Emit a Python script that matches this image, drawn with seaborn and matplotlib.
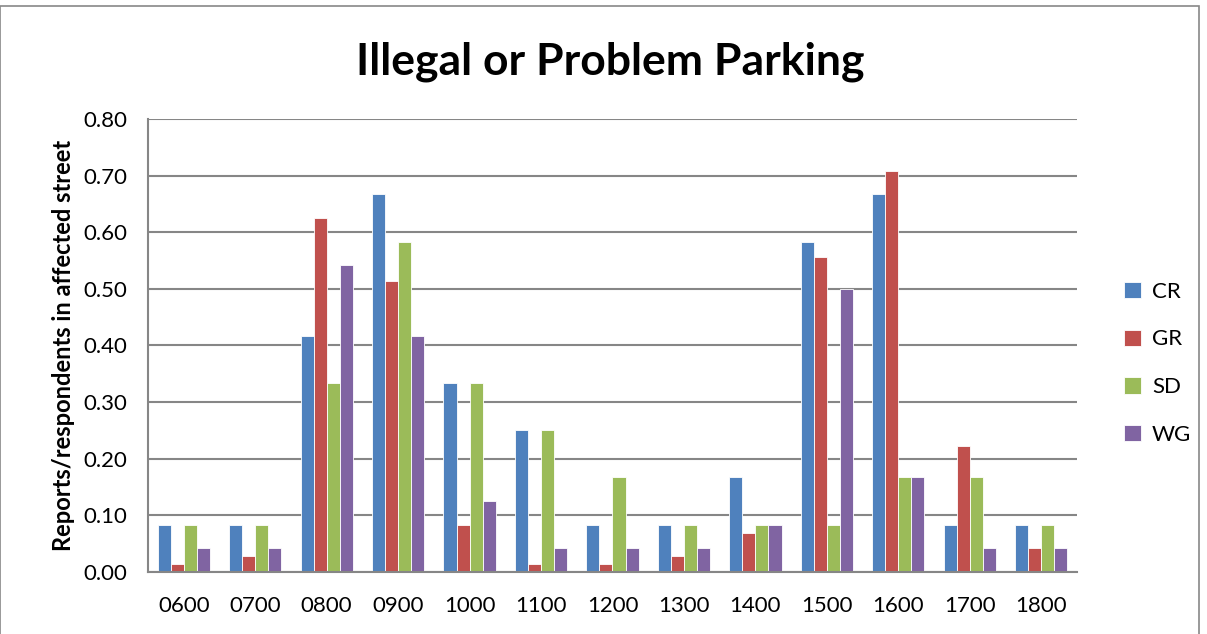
import matplotlib
matplotlib.use("Agg")
import matplotlib.pyplot as plt
import seaborn as sns
import pandas as pd
from matplotlib.patches import Rectangle
from matplotlib.ticker import FormatStrFormatter, FixedLocator

# Data
hours = ["0600", "0700", "0800", "0900", "1000", "1100", "1200",
         "1300", "1400", "1500", "1600", "1700", "1800"]
crVals = [0.083, 0.083, 0.417, 0.667, 0.333, 0.250, 0.083, 0.083, 0.167, 0.583, 0.667, 0.083, 0.083]
grVals = [0.014, 0.028, 0.625, 0.514, 0.083, 0.014, 0.014, 0.028, 0.069, 0.556, 0.708, 0.222, 0.042]
sdVals = [0.083, 0.083, 0.333, 0.583, 0.333, 0.250, 0.167, 0.083, 0.083, 0.083, 0.167, 0.167, 0.083]
wgVals = [0.042, 0.042, 0.542, 0.417, 0.125, 0.042, 0.042, 0.042, 0.083, 0.500, 0.167, 0.042, 0.042]
groups = ["CR", "GR", "SD", "WG"]
palette = ["#4F81BD", "#C0504D", "#9BBB59", "#8064A2"]

rows = []
for grp, vals in zip(groups, [crVals, grVals, sdVals, wgVals]):
    for h, v in zip(hours, vals):
        rows.append({"hour": h, "group": grp, "value": v})
df = pd.DataFrame(rows)

sns.set_style("white")
plt.rcParams["font.family"] = ["Lato", "DejaVu Sans"]
plt.rcParams["text.color"] = "black"
plt.rcParams["axes.labelcolor"] = "black"

fig = plt.figure(figsize=(12.07, 6.34), dpi=100)
ax = fig.add_axes([0.1226, 0.0978, 0.7697, 0.7145])

sns.barplot(data=df, x="hour", y="value", hue="group", palette=palette,
            width=0.73, ax=ax, edgecolor="white", linewidth=0.6, saturation=1)

ax.set_ylim(0, 0.8)
ax.set_xlim(-0.5, len(hours) - 0.5)
ax.set_yticks([i / 10 for i in range(9)])
ax.yaxis.set_major_formatter(FormatStrFormatter("%.2f"))
ax.grid(axis="y", color="#868686", linewidth=1.5)
ax.set_axisbelow(True)

ax.tick_params(axis="x", which="major", length=0, labelsize=16, pad=17, labelcolor="black")
ax.xaxis.set_minor_locator(FixedLocator([i - 0.5 for i in range(len(hours) + 1)]))
ax.tick_params(axis="x", which="minor", length=6, width=1.5, color="#868686")
ax.tick_params(axis="y", length=6, width=1.5, color="#868686", labelsize=16, pad=9,
               labelcolor="black")

for side in ["top", "right"]:
    ax.spines[side].set_visible(False)
for side in ["left", "bottom"]:
    ax.spines[side].set_color("#868686")
    ax.spines[side].set_linewidth(1.5)

ax.set_xlabel("")
ax.set_ylabel("Reports/respondents in affected street", fontsize=17, fontweight="bold", labelpad=6)
fig.suptitle("Illegal or Problem Parking", x=0.5055, y=0.935, fontsize=32, fontweight="bold",
             color="black")

ax.legend(loc="center left", bbox_to_anchor=(0.924, 0.427), bbox_transform=fig.transFigure,
          frameon=False, fontsize=16, labelspacing=1.25, handlelength=0.75, handleheight=0.75,
          handletextpad=0.5, borderaxespad=0)

fig.patches.append(Rectangle((0.0, -0.01), 0.9935, 1.0, transform=fig.transFigure,
                             fill=False, edgecolor="#888888", linewidth=1.2))

fig.savefig("out.png", dpi=100)
